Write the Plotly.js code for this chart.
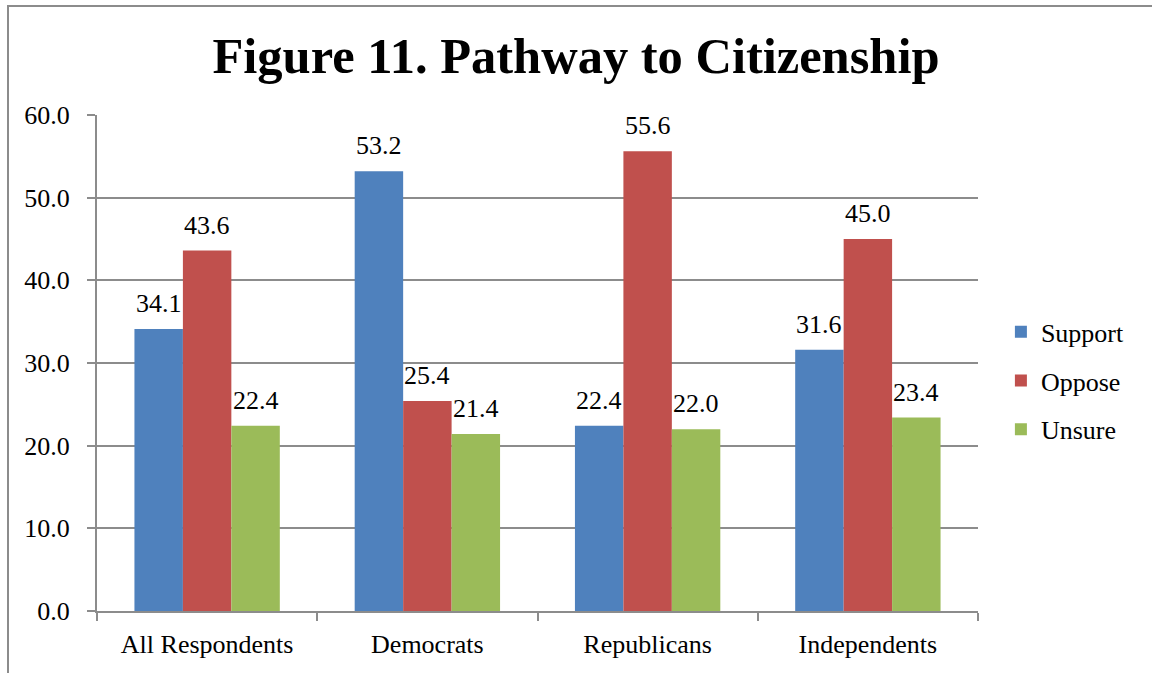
<!DOCTYPE html>
<html><head><meta charset="utf-8">
<script src="https://cdn.plot.ly/plotly-3.0.1.min.js"></script>
<style>
html,body{margin:0;padding:0;background:#fff;}
#wrap{position:relative;width:1152px;height:673px;}
#chart{position:absolute;left:0;top:0;width:1152px;height:673px;}
#frame{position:absolute;left:7px;top:5px;width:1160px;height:700px;border-left:2px solid #8c8c8c;border-top:2px solid #8c8c8c;pointer-events:none;}
</style></head>
<body><div id="wrap"><div id="chart"></div><div id="frame"></div></div>
<script>
const categories = ["All Respondents", "Democrats", "Republicans", "Independents"];
const support = [34.1, 53.2, 22.4, 31.6];
const oppose = [43.6, 25.4, 55.6, 45.0];
const unsure = [22.4, 21.4, 22.0, 23.4];
const seriesNames = ["Support", "Oppose", "Unsure"];
const yTicks = [0, 10, 20, 30, 40, 50, 60];

const FONT = "Liberation Serif";
const FS = 26;
const colors = ["#4F81BD", "#C0504D", "#9BBB59"];
const vals = [support, oppose, unsure];

const margin = {l: 97, r: 174, t: 115, b: 62};
const W = 1152, H = 673;
const bargap = 0.34;
const plotW = W - margin.l - margin.r;
const barW = plotW / categories.length * (1 - bargap) / vals.length;

const traces = vals.map((v, i) => ({
  type: "bar",
  name: seriesNames[i],
  legendgroup: "g" + i,
  x: categories,
  y: v,
  marker: {color: colors[i]}
}));

const annotations = [];
vals.forEach((v, i) => {
  v.forEach((d, j) => {
    annotations.push({
      xref: "x", yref: "y", x: categories[j], y: d,
      text: d.toFixed(1), showarrow: false,
      xanchor: "center", yanchor: "bottom",
      xshift: (i - 1) * barW, yshift: 9,
      font: {family: FONT, size: FS, color: "#000"}
    });
  });
});

const layout = {
  width: W, height: H,
  margin: margin,
  paper_bgcolor: "#fff", plot_bgcolor: "#fff",
  barmode: "group",
  bargap: bargap, bargroupgap: 0,
  title: {text: "<b>Figure 11. Pathway to Citizenship</b>", font: {family: FONT, size: 50.5, color: "#000"},
    x: 0.5, xref: "container", y: 0.918, yref: "container", yanchor: "middle"},
  font: {family: FONT, size: FS, color: "#000"},
  annotations: annotations,
  xaxis: {
    type: "category",
    showline: true, linecolor: "#8c8c8c", linewidth: 2,
    ticks: "outside", tickson: "boundaries", ticklen: 8, tickcolor: "#8c8c8c", tickwidth: 2,
    showgrid: false,
    tickfont: {family: FONT, size: FS, color: "#000"},
    ticklabelstandoff: 9
  },
  yaxis: {
    range: [0, 60], tickvals: yTicks, ticktext: yTicks.map(t => t.toFixed(1)),
    showline: true, linecolor: "#8c8c8c", linewidth: 2,
    ticks: "outside", ticklen: 8, tickcolor: "#8c8c8c", tickwidth: 2,
    showgrid: true, gridcolor: "#8c8c8c", gridwidth: 2,
    zeroline: false,
    tickfont: {family: FONT, size: FS, color: "#000"},
    ticklabelstandoff: 12
  },
  legend: {x: 1.026, xanchor: "left", y: 0.464, yanchor: "middle",
    font: {family: FONT, size: FS, color: "#000"}, traceorder: "grouped", tracegroupgap: 12},
  showlegend: true
};

Plotly.newPlot("chart", traces, layout, {displayModeBar: false, staticPlot: true});
</script></body></html>
